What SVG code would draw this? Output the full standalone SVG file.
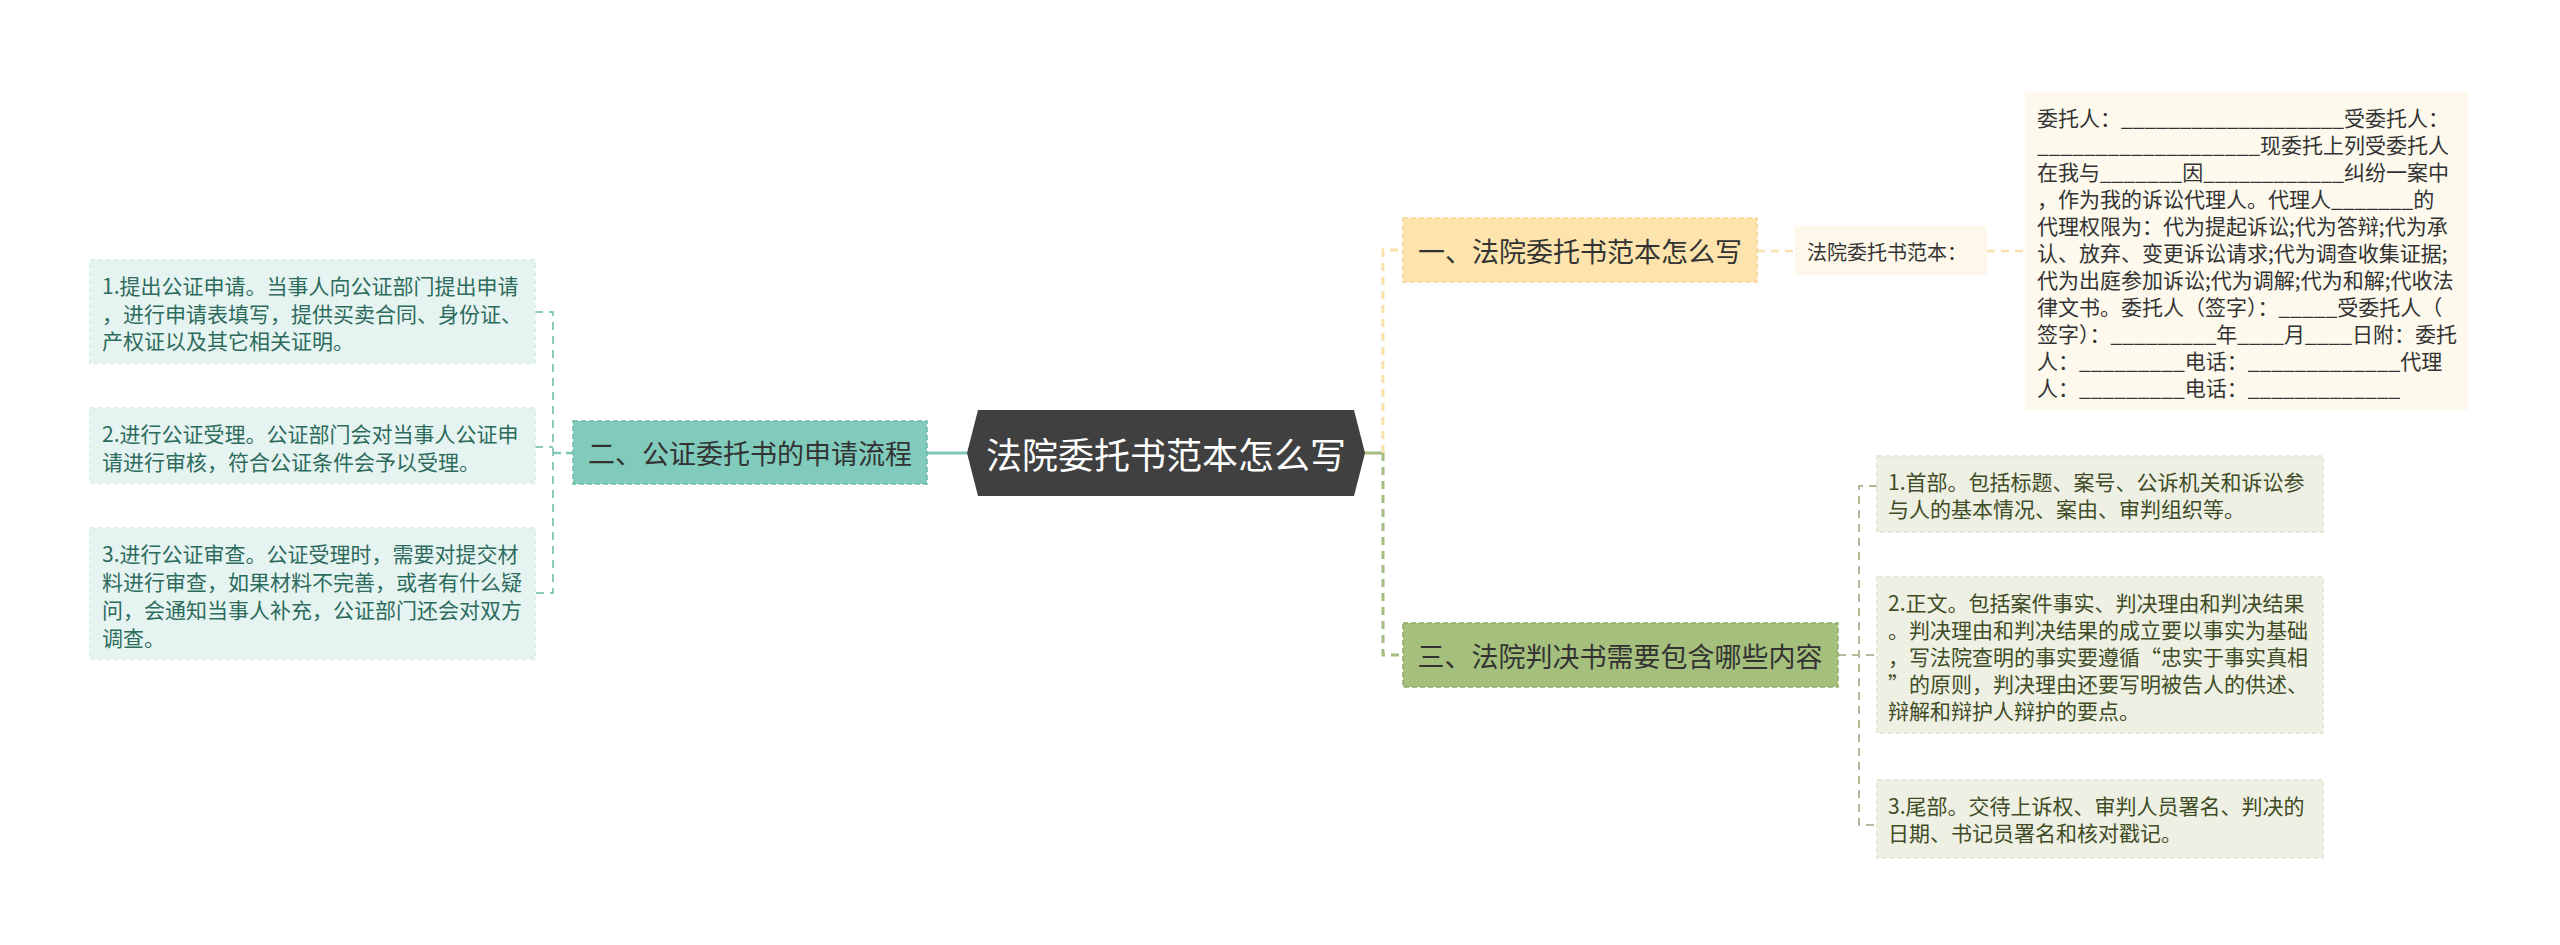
<svg xmlns="http://www.w3.org/2000/svg" width="2560" height="945" viewBox="0 0 2560 945">
<style>
text{font-family:"Noto Sans CJK SC","Noto Sans",sans-serif;dominant-baseline:central}
.t21{font-size:21px}
.lf{fill:#2d6b5c}
.rf{fill:#3f4c25}
.dk{fill:#333333}
.conn{fill:none;stroke-linecap:butt}
</style>
<rect width="2560" height="945" fill="#ffffff"/>
<g id="connectors">
  <path class="conn" d="M967 453H927" stroke="#7fc7b8" stroke-width="3"/>
  <path class="conn" d="M573 453H553" stroke="#7fc7b8" stroke-width="2.5" stroke-dasharray="7 5"/>
  <path class="conn" d="M535 312H553V593H535M535 447H553" stroke="#8ccabd" stroke-width="2" stroke-dasharray="8 6"/>
  <path class="conn" d="M1365 453H1383" stroke="#a5bd7f" stroke-width="3"/>
  <path class="conn" d="M1383 453V250H1403" stroke="#f7e0aa" stroke-width="3" stroke-dasharray="8 6"/>
  <path class="conn" d="M1383 453V655H1403" stroke="#a5bd7f" stroke-width="3" stroke-dasharray="8 6"/>
  <path class="conn" d="M1757 251H1795" stroke="#f7e0aa" stroke-width="2.5" stroke-dasharray="8 6"/>
  <path class="conn" d="M1987 251H2025" stroke="#f7e0aa" stroke-width="2.5" stroke-dasharray="8 6"/>
  <path class="conn" d="M1838 655H1877M1877 486H1859V825H1877" stroke="#b4b898" stroke-width="2" stroke-dasharray="8 6"/>
</g>
<g id="center">
  <polygon points="967,453 978,410 1354,410 1365,453 1354,496 978,496" fill="#404040"/>
  <text x="1166" y="453" font-size="36" text-anchor="middle" fill="#ffffff">法院委托书范本怎么写</text>
</g>
<g id="n2">
  <rect x="573" y="421" width="354" height="63" fill="#80cbbc" stroke="#6db8a8" stroke-width="1.5" stroke-dasharray="5 3"/>
  <text x="750" y="452" font-size="27" text-anchor="middle" class="dk">二、公证委托书的申请流程</text>
</g>
<g id="n2-1">
  <rect x="90" y="260" width="445" height="103" fill="#e6f4f1" stroke="#d3ebe5" stroke-width="1.5" stroke-dasharray="5 3"/>
  <text class="t21 lf" x="102" y="285">1.提出公证申请。当事人向公证部门提出申请</text>
  <text class="t21 lf" x="102" y="313">，进行申请表填写，提供买卖合同、身份证、</text>
  <text class="t21 lf" x="102" y="340">产权证以及其它相关证明。</text>
</g>
<g id="n2-2">
  <rect x="90" y="408" width="445" height="75" fill="#e6f4f1" stroke="#d3ebe5" stroke-width="1.5" stroke-dasharray="5 3"/>
  <text class="t21 lf" x="102" y="433">2.进行公证受理。公证部门会对当事人公证申</text>
  <text class="t21 lf" x="102" y="461">请进行审核，符合公证条件会予以受理。</text>
</g>
<g id="n2-3">
  <rect x="90" y="528" width="445" height="131" fill="#e6f4f1" stroke="#d3ebe5" stroke-width="1.5" stroke-dasharray="5 3"/>
  <text class="t21 lf" x="102" y="553">3.进行公证审查。公证受理时，需要对提交材</text>
  <text class="t21 lf" x="102" y="581">料进行审查，如果材料不完善，或者有什么疑</text>
  <text class="t21 lf" x="102" y="609">问，会通知当事人补充，公证部门还会对双方</text>
  <text class="t21 lf" x="102" y="637">调查。</text>
</g>
<g id="n1">
  <rect x="1403" y="218" width="354" height="64" fill="#fde4ac" stroke="#f3d594" stroke-width="1.5" stroke-dasharray="5 3"/>
  <text x="1580" y="250" font-size="27" text-anchor="middle" class="dk">一、法院委托书范本怎么写</text>
</g>
<g id="n1-1">
  <rect x="1795" y="226" width="192" height="49" fill="#fdf8ea"/>
  <text x="1807" y="251" font-size="20" class="dk">法院委托书范本：</text>
</g>
<g id="n1-2">
  <rect x="2025" y="92" width="443" height="318" fill="#fdf9ed"/>
  <text class="t21 dk" x="2037" y="117">委托人：___________________受委托人：</text>
  <text class="t21 dk" x="2037" y="144">___________________现委托上列受委托人</text>
  <text class="t21 dk" x="2037" y="171">在我与_______因____________纠纷一案中</text>
  <text class="t21 dk" x="2037" y="198">，作为我的诉讼代理人。代理人_______的</text>
  <text class="t21 dk" x="2037" y="225">代理权限为：代为提起诉讼;代为答辩;代为承</text>
  <text class="t21 dk" x="2037" y="252">认、放弃、变更诉讼请求;代为调查收集证据;</text>
  <text class="t21 dk" x="2037" y="279">代为出庭参加诉讼;代为调解;代为和解;代收法</text>
  <text class="t21 dk" x="2037" y="306">律文书。委托人（签字）：_____受委托人（</text>
  <text class="t21 dk" x="2037" y="333">签字）：_________年____月____日附：委托</text>
  <text class="t21 dk" x="2037" y="360">人：_________电话：_____________代理</text>
  <text class="t21 dk" x="2037" y="387">人：_________电话：_____________</text>
</g>
<g id="n3">
  <rect x="1403" y="623" width="435" height="64" fill="#a5bf7d" stroke="#8fab69" stroke-width="1.5" stroke-dasharray="5 3"/>
  <text x="1620" y="655" font-size="27" text-anchor="middle" class="dk">三、法院判决书需要包含哪些内容</text>
</g>
<g id="n3-1">
  <rect x="1877" y="456" width="446" height="76" fill="#eef0e4" stroke="#e0e4d0" stroke-width="1.5" stroke-dasharray="5 3"/>
  <text class="t21 rf" x="1888" y="481">1.首部。包括标题、案号、公诉机关和诉讼参</text>
  <text class="t21 rf" x="1888" y="508">与人的基本情况、案由、审判组织等。</text>
</g>
<g id="n3-2">
  <rect x="1877" y="577" width="446" height="156" fill="#eef0e4" stroke="#e0e4d0" stroke-width="1.5" stroke-dasharray="5 3"/>
  <text class="t21 rf" x="1888" y="602">2.正文。包括案件事实、判决理由和判决结果</text>
  <text class="t21 rf" x="1888" y="629">。判决理由和判决结果的成立要以事实为基础</text>
  <text class="t21 rf" x="1888" y="656">，写法院查明的事实要遵循“忠实于事实真相</text>
  <text class="t21 rf" x="1888" y="683">”的原则，判决理由还要写明被告人的供述、</text>
  <text class="t21 rf" x="1888" y="710">辩解和辩护人辩护的要点。</text>
</g>
<g id="n3-3">
  <rect x="1877" y="780" width="446" height="78" fill="#eef0e4" stroke="#e0e4d0" stroke-width="1.5" stroke-dasharray="5 3"/>
  <text class="t21 rf" x="1888" y="805">3.尾部。交待上诉权、审判人员署名、判决的</text>
  <text class="t21 rf" x="1888" y="832">日期、书记员署名和核对戳记。</text>
</g>
</svg>
